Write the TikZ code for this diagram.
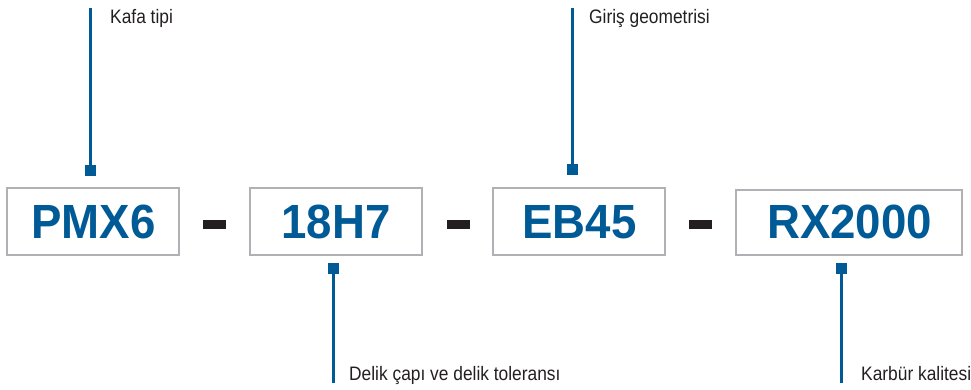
\documentclass[tikz,border=0pt]{standalone}
\usepackage{fontspec}
\usepackage{graphicx}
\setmainfont{Liberation Sans}
\definecolor{codeblue}{HTML}{005A96}
\definecolor{boxgrey}{HTML}{B1B1B5}
\definecolor{darktext}{HTML}{231F20}
\tikzset{
  codebox/.style={draw=boxgrey, line width=2pt, inner sep=0pt, text=codeblue},
  codetext/.style={font=\fontsize{48}{48}\selectfont\bfseries},
  sep/.style={fill=darktext, draw=none, inner sep=0pt, minimum width=23pt, minimum height=9pt},
  marker/.style={fill=codeblue, draw=none, inner sep=0pt, minimum size=11pt},
  leader/.style={draw=codeblue, line width=2.4pt},
  lbl/.style={anchor=base west, inner sep=0pt, text=darktext, font=\fontsize{19.5}{20}\selectfont}
}
\newcommand{\codetxt}[1]{\scalebox{0.95}[1]{#1}}
\newcommand{\lbltxt}[1]{\scalebox{0.89}[1]{#1}}
\begin{document}
\begin{tikzpicture}[x=1pt,y=-1pt]
\useasboundingbox (0,0) rectangle (971,390);
% boxes
\node[codebox, minimum width=172pt, minimum height=67pt] (b1) at (93,221.5) {};
\node[codetext, text=codeblue] (t1) at (93.5,222) {\codetxt{PMX6}};
\node[codebox, minimum width=172pt, minimum height=67pt] (b2) at (336,221.5) {};
\node[codetext, text=codeblue] (t2) at (336,222) {\codetxt{18H7}};
\node[codebox, minimum width=172pt, minimum height=67pt] (b3) at (579,221.5) {};
\node[codetext, text=codeblue] (t3) at (579.5,222) {\codetxt{EB45}};
\node[codebox, minimum width=226pt, minimum height=65pt] (b4) at (849,222.5) {};
\node[codetext, text=codeblue] (t4) at (849.5,222) {\codetxt{RX2000}};
% separators
\node[sep] (s1) at (214.5,224.5) {};
\node[sep] (s2) at (458,224.5) {};
\node[sep] (s3) at (700.5,224) {};
% markers
\node[marker] (m1) at (90.5,170.5) {};
\node[marker] (m2) at (572.5,169.5) {};
\node[marker] (m3) at (333.5,268.5) {};
\node[marker] (m4) at (841.5,268.5) {};
\coordinate (e1) at (90.5,8);
\coordinate (e2) at (572.5,8);
\coordinate (e3) at (333.5,383);
\coordinate (e4) at (841.5,383);
\draw[leader] (m1.north) -- (e1);
\draw[leader] (m2.north) -- (e2);
\draw[leader] (m3.south) -- (e3);
\draw[leader] (m4.south) -- (e4);
% labels
\node[lbl] (l1) at (110,24) {\lbltxt{Kafa tipi}};
\node[lbl] (l2) at (589,23.5) {\lbltxt{Giriş geometrisi}};
\node[lbl] (l3) at (349,380) {\lbltxt{Delik çapı ve delik toleransı}};
\node[lbl] (l4) at (861,380) {\lbltxt{Karbür kalitesi}};
\end{tikzpicture}
\end{document}
